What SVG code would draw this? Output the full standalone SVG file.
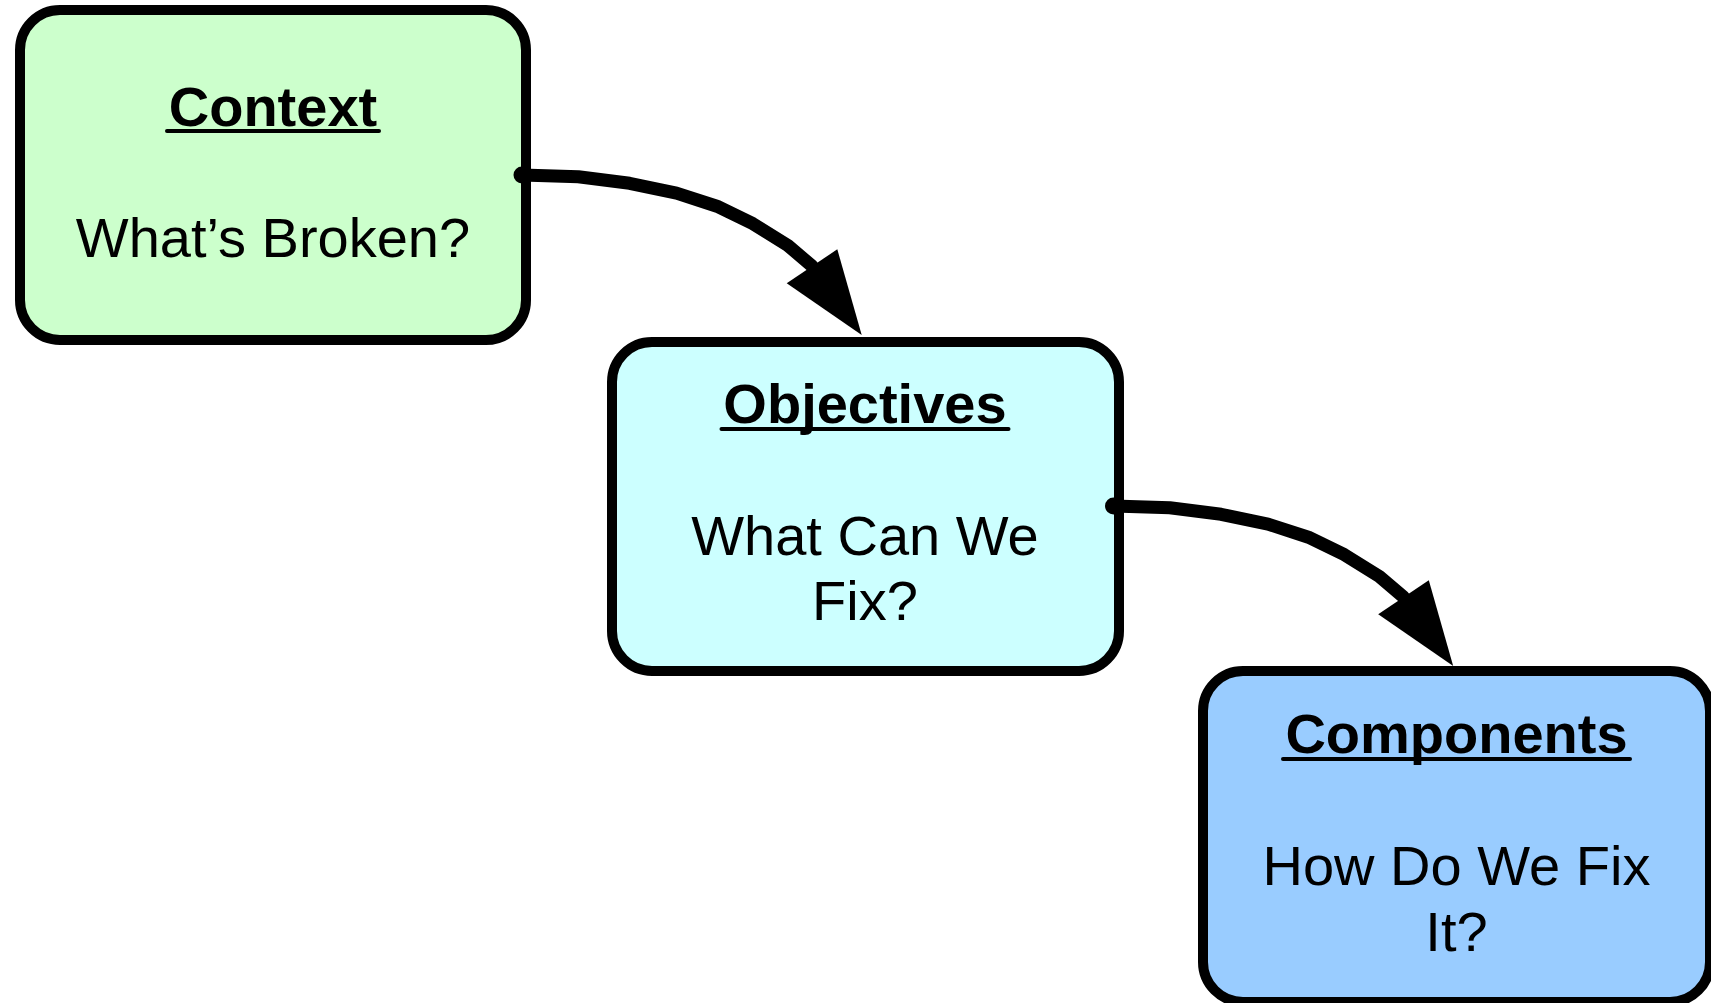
<svg xmlns="http://www.w3.org/2000/svg" width="1711" height="1003" viewBox="0 0 1711 1003">
<style>
.box{stroke:#000;stroke-width:10}
.t{font-family:"Liberation Sans",Arial,sans-serif;font-size:56px;fill:#000;text-anchor:middle}
.b{font-weight:bold}
.ul{stroke:#000;stroke-width:4;stroke-linecap:round}
.conn{fill:none;stroke:#000;stroke-width:13;stroke-linecap:round;stroke-linejoin:round}
.head{fill:#000}
</style>
<rect width="1711" height="1003" fill="#fff"/>
<g id="context">
<rect class="box" x="20" y="10" width="506" height="330" rx="40" ry="40" fill="#CCFFCC"/>
<text class="t b" x="273" y="125.5">Context</text>
<line class="ul" x1="167" y1="131" x2="379" y2="131"/>
<text class="t" x="273" y="257">What’s Broken?</text>
</g>
<g id="objectives">
<rect class="box" x="612" y="342" width="507" height="329" rx="40" ry="40" fill="#CCFFFF"/>
<text class="t b" x="865" y="423.3">Objectives</text>
<line class="ul" x1="721.5" y1="429" x2="1008.5" y2="429"/>
<text class="t" x="865" y="555">What Can We</text>
<text class="t" x="865" y="620">Fix?</text>
</g>
<g id="components">
<rect class="box" x="1203" y="671" width="507" height="331" rx="40" ry="40" fill="#99CCFF"/>
<text class="t b" x="1456.5" y="753.3">Components</text>
<line class="ul" x1="1283" y1="759" x2="1630" y2="759"/>
<text class="t" x="1456.5" y="885">How Do We Fix</text>
<text class="t" x="1456.5" y="951">It?</text>
</g>
<g id="connectors">
<g id="c1">
<polyline class="conn" points="522,175 578.3,176.8 629.6,183.3 676.5,193.1 716.9,206.2 752.9,223.7 787.9,245.5 812,266"/>
<circle cx="522" cy="175" r="8.5" fill="#000"/>
<polygon class="head" points="861.7,335 786.7,283.3 837.3,249.3"/>
</g>
<g id="c2" transform="translate(591.5,331)">
<polyline class="conn" points="522,175 578.3,176.8 629.6,183.3 676.5,193.1 716.9,206.2 752.9,223.7 787.9,245.5 812,266"/>
<circle cx="522" cy="175" r="8.5" fill="#000"/>
<polygon class="head" points="861.7,335 786.7,283.3 837.3,249.3"/>
</g>
</g>
</svg>
